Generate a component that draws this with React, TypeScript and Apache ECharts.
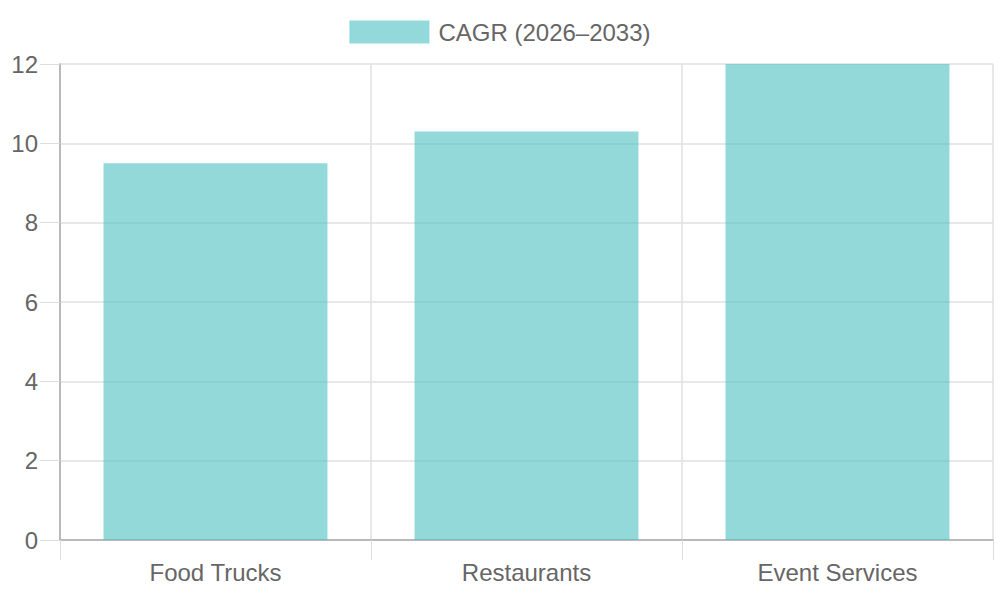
import React, { useEffect, useRef } from "react";
import * as echarts from "echarts";

const categories = ["Food Trucks", "Restaurants", "Event Services"];
const cagrValues = [9.5, 10.3, 12];
const seriesName = "CAGR (2026–2033)";
const yTicks = { min: 0, max: 12, interval: 2 };

export default function App() {
  const ref = useRef<HTMLDivElement>(null);
  useEffect(() => {
    if (!ref.current) return;
    const chart = echarts.init(ref.current, null, { renderer: "svg" });
    const font = "'Liberation Sans', Arial, sans-serif";
    chart.setOption({
      animation: false,
      textStyle: { fontFamily: font },
      legend: {
        top: 15,
        left: "center",
        itemWidth: 80,
        itemHeight: 23,
        itemGap: 20,
        icon: "rect",
        textStyle: { color: "#666", fontSize: 24, fontFamily: font, padding: [0, 0, 0, 4] },
        data: [seriesName],
      },
      grid: { left: 60, right: 7, top: 64, bottom: 60, containLabel: false },
      xAxis: {
        type: "category",
        data: categories,
        boundaryGap: true,
        axisLine: { show: true, lineStyle: { color: "#aaa", width: 1.5 } },
        axisTick: { show: true, length: 20, alignWithLabel: false, lineStyle: { color: "#ddd" } },
        axisLabel: { color: "#666", fontSize: 24, margin: 20, fontFamily: font },
        splitLine: { show: true, lineStyle: { color: "#e0e0e0", width: 1.5 } },
      },
      yAxis: {
        type: "value",
        min: yTicks.min,
        max: yTicks.max,
        interval: yTicks.interval,
        axisLine: { show: true, lineStyle: { color: "#aaa", width: 1.5 } },
        axisTick: { show: true, length: 20, lineStyle: { color: "#ddd" } },
        axisLabel: { color: "#666", fontSize: 24, margin: 22, fontFamily: font },
        splitLine: { show: true, lineStyle: { color: "#e0e0e0", width: 1.5 } },
      },
      series: [
        {
          name: seriesName,
          type: "bar",
          data: cagrValues,
          barWidth: "72%",
          itemStyle: { color: "rgba(75,192,192,0.6)" },
        },
      ],
    });
    return () => chart.dispose();
  }, []);
  return (
    <div
      ref={ref}
      style={{ position: "absolute", left: 0, top: 0, width: 1000, height: 600 }}
    />
  );
}
